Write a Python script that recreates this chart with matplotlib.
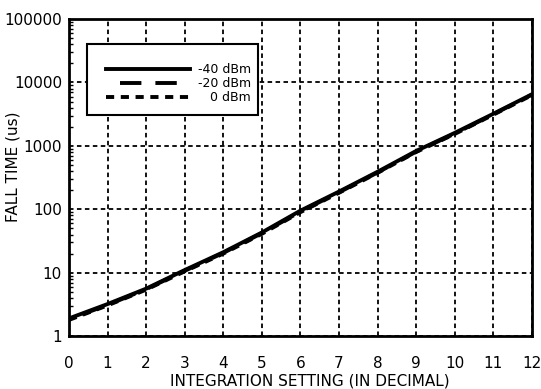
import matplotlib
matplotlib.use("Agg")
import matplotlib.pyplot as plt
from matplotlib.patches import Rectangle

plt.rcParams['font.family'] = ['DejaVu Sans']

setting = [0, 1, 2, 3, 4, 5, 6, 7, 8, 9, 10, 11, 12]
fall_m40 = [1.9, 3.2, 5.6, 11, 21, 43, 95, 190, 390, 830, 1600, 3200, 6500]
fall_m20 = [1.85, 3.1, 5.5, 10.7, 20.5, 42, 92, 185, 380, 810, 1560, 3150, 6400]
fall_0 = [1.8, 3.05, 5.4, 10.5, 20, 41, 90, 182, 375, 800, 1540, 3100, 6300]
labels = ['-40 dBm', '-20 dBm', '\u2007\u20080 dBm']

fig = plt.figure(figsize=(5.41, 3.89), dpi=100)
ax = fig.add_axes([0.1275, 0.136, 0.8555, 0.815])

ax.plot(setting, fall_m40, 'k', lw=2.8, linestyle='-', label=labels[0])
ax.plot(setting, fall_m20, 'k', lw=2.8, linestyle=(5.5, (5.5, 3.6)), label=labels[1])
ax.plot(setting, fall_0, 'k', lw=2.8, linestyle=(0, (2.1, 1.7)), label=labels[2])

ax.set_yscale('log')
ax.set_ylim(1, 100000)
ax.set_xlim(0, 12)
ax.set_xticks(range(13))
ax.set_yticks([1, 10, 100, 1000, 10000, 100000])
ax.set_yticklabels(['1', '10', '100', '1000', '10000', '100000'])
ax.grid(True, which='major', color='k', linestyle=(0, (2.5, 1.9)), lw=1.3)
ax.tick_params(which='both', direction='in', labelsize=11, top=False, right=False)
ax.tick_params(axis='x', which='major', length=0, pad=14)
ax.tick_params(axis='y', which='major', length=0, pad=5)
ax.tick_params(axis='y', which='minor', length=3, width=1)
for s in ax.spines.values():
    s.set_linewidth(2)

ax.set_xlabel('INTEGRATION SETTING (IN DECIMAL)', fontsize=11)
ax.set_ylabel('FALL TIME (us)', fontsize=11)
ax.xaxis.set_label_coords(0.52, -0.117)
ax.yaxis.set_label_coords(-0.104, 0.533)

# legend frame and entries
ax.add_patch(Rectangle((0.039, 0.697), 0.369, 0.224, transform=ax.transAxes,
                       fill=True, facecolor='white', edgecolor='k', lw=1.5, zorder=4))
leg = ax.legend(loc='upper left', bbox_to_anchor=(0.081, 0.86), frameon=False,
                fontsize=9, handlelength=6.7, handletextpad=0.6, borderpad=0,
                borderaxespad=0, labelspacing=0.08)
leg.set_zorder(5)

fig.savefig('out.png', dpi=100)
